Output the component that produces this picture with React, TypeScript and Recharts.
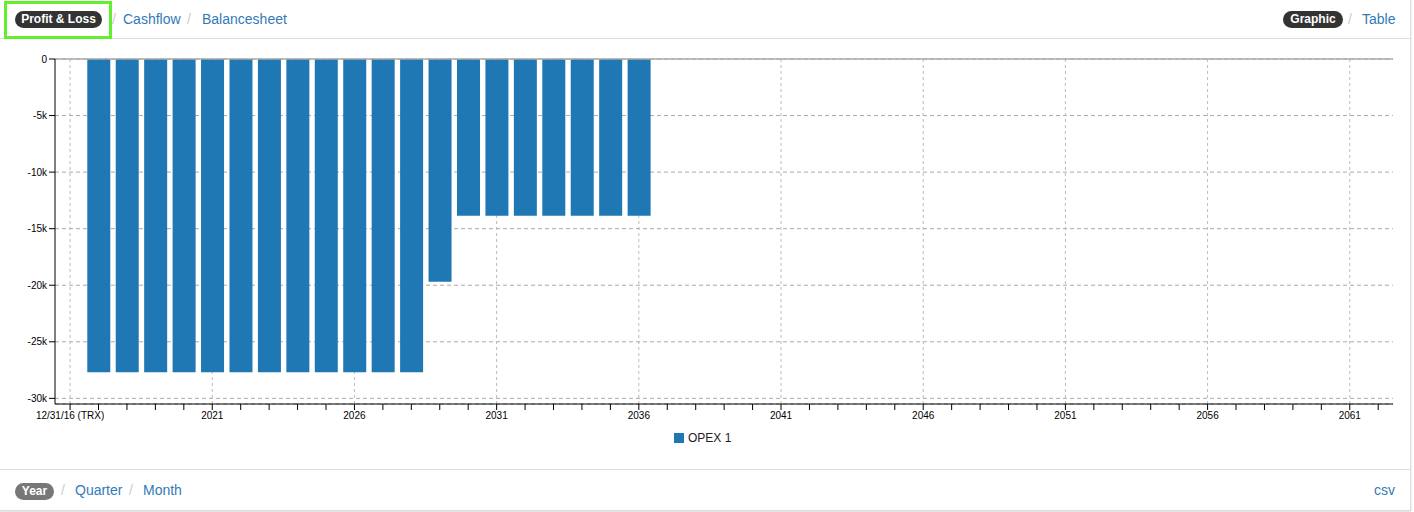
import React from "react";
import { BarChart, Bar, XAxis, YAxis, CartesianGrid, Legend, ReferenceLine } from "recharts";

const YEARS = [
  2017, 2018, 2019, 2020, 2021, 2022, 2023, 2024, 2025, 2026,
  2027, 2028, 2029, 2030, 2031, 2032, 2033, 2034, 2035, 2036,
];
const OPEX_1 = [
  -27700, -27700, -27700, -27700, -27700, -27700, -27700, -27700, -27700, -27700,
  -27700, -27700, -19700, -13850, -13850, -13850, -13850, -13850, -13850, -13850,
];
const Y_TICKS = [0, -5000, -10000, -15000, -20000, -25000, -30000];
const MAJOR_YEARS = [2016, 2021, 2026, 2031, 2036, 2041, 2046, 2051, 2056, 2061];
const START_YEAR = 2016;
const START_LABEL = "12/31/16 (TRX)";
// one minor tick per year
const X_TICKS = Array.from({ length: 47 }, (_, i) => START_YEAR + i);

const FONT = "'Liberation Sans', Arial, Helvetica, sans-serif";
const BLUE = "#1f77b4";
const LINK = "#337ab7";

const data = YEARS.map((year, i) => ({ year, opex1: OPEX_1[i] }));

const XTick = ({ x, y, payload }: any) => {
  const v = payload.value;
  if (!MAJOR_YEARS.includes(v)) return <g />;
  return (
    <text x={x} y={y} dy="0.71em" textAnchor="middle" fontSize={10} fill="#000" fontFamily={FONT}>
      {v === START_YEAR ? START_LABEL : String(v)}
    </text>
  );
};

const Pill = ({ left, top, width, bg, children }: any) => (
  <div
    style={{
      position: "absolute",
      left,
      top,
      width,
      height: 17,
      lineHeight: "17px",
      borderRadius: 9,
      background: bg,
      color: "#fff",
      fontWeight: "bold",
      fontSize: 12,
      textAlign: "center",
    }}
  >
    {children}
  </div>
);

const Txt = ({ left, top, color, children }: any) => (
  <div style={{ position: "absolute", left, top, color, fontSize: 14, lineHeight: "17px" }}>{children}</div>
);

const App: React.FC = () => {
  return (
    <div
      style={{
        position: "absolute",
        left: 0,
        top: 0,
        width: 1414,
        height: 512,
        background: "#fff",
        fontFamily: FONT,
        overflow: "hidden",
      }}
    >
      {/* panel frame */}
      <div
        style={{
          position: "absolute",
          left: -1,
          top: -1,
          width: 1412,
          height: 512,
          boxSizing: "border-box",
          border: "1px solid #ddd",
          boxShadow: "0 1px 2px rgba(0,0,0,0.15)",
        }}
      />
      <div style={{ position: "absolute", left: 0, top: 38, width: 1410, height: 1, background: "#ddd" }} />
      <div style={{ position: "absolute", left: 0, top: 469, width: 1410, height: 1, background: "#ddd" }} />

      {/* header */}
      <div
        style={{
          position: "absolute",
          left: 4,
          top: 1,
          width: 108,
          height: 38,
          boxSizing: "border-box",
          border: "3px solid #62f02c",
        }}
      />
      <Pill left={15} top={11} width={87} bg="#333">Profit &amp; Loss</Pill>
      <Txt left={112} top={11} color="#ccc">/</Txt>
      <Txt left={123} top={11} color={LINK}>Cashflow</Txt>
      <Txt left={187} top={11} color="#ccc">/</Txt>
      <Txt left={202} top={11} color={LINK}>Balancesheet</Txt>
      <Pill left={1283} top={11} width={60} bg="#333">Graphic</Pill>
      <Txt left={1348} top={11} color="#ccc">/</Txt>
      <Txt left={1362} top={11} color={LINK}>Table</Txt>

      {/* footer */}
      <Pill left={15} top={483} width={39} bg="#777">Year</Pill>
      <Txt left={61} top={482} color="#ccc">/</Txt>
      <Txt left={75} top={482} color={LINK}>Quarter</Txt>
      <Txt left={129} top={482} color="#ccc">/</Txt>
      <Txt left={143} top={482} color={LINK}>Month</Txt>
      <Txt left={1374} top={482} color={LINK}>csv</Txt>

      {/* chart */}
      <div style={{ position: "absolute", left: 0, top: 40 }}>
        <BarChart
          width={1414}
          height={420}
          data={data}
          margin={{ top: 19, right: 21, left: 0, bottom: 12 }}
          style={{ fontFamily: FONT }}
        >
          <CartesianGrid vertical={false} stroke="#aaa" strokeDasharray="4 3" />
          <CartesianGrid horizontal={false} verticalValues={MAJOR_YEARS} stroke="#bbb" strokeDasharray="3 3" />
          <XAxis
            dataKey="year"
            type="number"
            domain={[2015.47, 2062.52]}
            ticks={X_TICKS}
            interval={0}
            tick={<XTick />}
            tickSize={6}
            height={24}
            stroke="#000"
            allowDataOverflow
          />
          <YAxis
            type="number"
            domain={[-30500, 0]}
            ticks={Y_TICKS}
            interval={0}
            width={55}
            tickSize={6}
            stroke="#000"
            tick={{ fontSize: 10, fill: "#000" }}
            tickFormatter={(v: number) => (v === 0 ? "0" : `${v / 1000}k`)}
            allowDataOverflow
          />
          <Bar dataKey="opex1" name="OPEX 1" fill={BLUE} barSize={23} isAnimationActive={false} />
          <ReferenceLine y={0} stroke="#aaa" strokeWidth={1.5} />
          <Legend
            verticalAlign="bottom"
            align="left"
            height={20}
            iconType="square"
            iconSize={10}
            wrapperStyle={{ left: 674, width: 120 }}
            formatter={(value: string) => (
              <span style={{ color: "#222", fontSize: 12 }}>{value}</span>
            )}
          />
        </BarChart>
      </div>
    </div>
  );
};

export default App;
